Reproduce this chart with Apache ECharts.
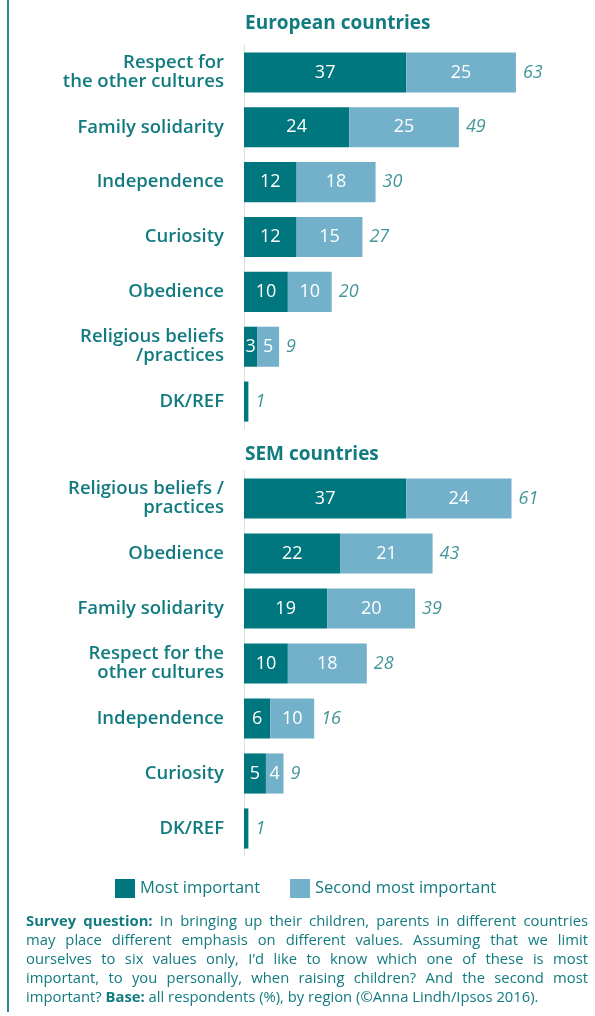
<!DOCTYPE html>
<html><head><meta charset="utf-8">
<script src="https://cdn.jsdelivr.net/npm/echarts@6/dist/echarts.min.js"></script>
<style>html,body{margin:0;padding:0;background:#fff}#c{width:595px;height:1016px}</style>
</head><body><div id="c"></div>
<script>
// ---- data ----
const euCategories = ['Respect for\nthe other cultures','Family solidarity','Independence','Curiosity','Obedience','Religious beliefs\n/practices','DK/REF'];
const euMost = [37,24,12,12,10,3,1];
const euSecond = [25,25,18,15,10,5,0];
const euTotal = [63,49,30,27,20,9,1];

const semCategories = ['Religious beliefs /\npractices','Obedience','Family solidarity','Respect for the\nother cultures','Independence','Curiosity','DK/REF'];
const semMost = [37,22,19,10,6,5,1];
const semSecond = [24,21,20,18,10,4,0];
const semTotal = [61,43,39,28,16,9,1];

const seriesNames = ['Most important','Second most important'];
const titles = ['European countries','SEM countries'];
const footLines = [
  [['Survey question:',true],['In bringing up their children, parents in different countries',false]],
  [['may place different emphasis on different values. Assuming that we limit',false]],
  [['ourselves to six values only, I\u2019d like to know which one of these is most',false]],
  [['important, to you personally, when raising children? And the second most',false]],
  [['important?',false],['Base:',true],['all respondents (%), by region (\u00A9Anna Lindh/Ipsos 2016).',false]]
];

// ---- style ----
const DARK = '#00767E', LIGHT = '#72B1C9', TEXT = '#127B80';
const FONT = '"Open Sans", sans-serif';

const chart = echarts.init(document.getElementById('c'));
const grids = [
  {left:244, right:44, top:45, height:384},
  {left:244, right:44, top:471, height:385}
];
const groups = [
  {cats:euCategories, most:euMost, second:euSecond, total:euTotal},
  {cats:semCategories, most:semMost, second:semSecond, total:semTotal}
];
const xAxis = [], yAxis = [], series = [];
groups.forEach((g,i)=>{
  xAxis.push({gridIndex:i, type:'value', min:0, max:70, show:false});
  yAxis.push({gridIndex:i, type:'category', inverse:true, data:g.cats,
    axisLine:{show:true, lineStyle:{color:'#dddddd', width:1}}, axisTick:{show:false},
    axisLabel:{color:TEXT, fontFamily:FONT, fontSize:18.5, fontWeight:600, lineHeight:19, margin:20, align:'right'}});
  const inLabel = {show:true, position:'inside', color:'#fff', fontFamily:FONT, fontSize:18, fontWeight:500,
    formatter:p=> p.value>=2 ? String(p.value) : ''};
  series.push({name:seriesNames[0], type:'bar', xAxisIndex:i, yAxisIndex:i, stack:'s'+i, data:g.most,
    itemStyle:{color:DARK}, barCategoryGap:'27%', label:inLabel});
  series.push({name:seriesNames[1], type:'bar', xAxisIndex:i, yAxisIndex:i, stack:'s'+i, data:g.second,
    itemStyle:{color:LIGHT}, barCategoryGap:'27%', label:inLabel});
  series.push({type:'scatter', xAxisIndex:i, yAxisIndex:i, symbolSize:0, silent:true,
    data:g.cats.map((c,k)=>[g.most[k]+g.second[k], k]),
    label:{show:true, position:'right', distance:7, color:TEXT, fontFamily:FONT, fontSize:18, fontStyle:'italic',
      formatter:p=>String(g.total[p.dataIndex])}});
});

// justified footnote
const cv = document.createElement('canvas').getContext('2d');
const FS = 14.8;
function w(t,b){cv.font=(b?'700 ':'400 ')+FS+'px "Open Sans"';return cv.measureText(t).width;}
const graphics = [
  {type:'rect', shape:{x:7,y:0,width:2,height:1012}, style:{fill:'#2A8A8E'}},
];
titles.forEach((t,i)=>graphics.push({type:'text', left:245, top:i?445:14,
  style:{text:t, fill:TEXT, font:'700 19px "Open Sans"'}}));
const X0=26, X1=588, Y0=914, LH=19;
footLines.forEach((segs,li)=>{
  const words=[];
  segs.forEach(([s,b])=>s.split(' ').forEach(wd=>words.push([wd,b])));
  const tot = words.reduce((a,[t,b])=>a+w(t,b),0);
  const last = li===footLines.length-1;
  const gap = last ? w(' ',false) : (X1-X0-tot)/(words.length-1);
  let x=X0;
  words.forEach(([t,b])=>{
    graphics.push({type:'text', x:x, y:Y0+li*LH, style:{text:t, fill:TEXT, font:(b?'700 ':'400 ')+FS+'px "Open Sans"', textVerticalAlign:'top'}});
    x += w(t,b)+gap;
  });
});

chart.setOption({
  animation:false,
  grid:grids,
  xAxis:xAxis, yAxis:yAxis, series:series,
  legend:{data:seriesNames, left:110, top:874, itemWidth:20, itemHeight:19, itemGap:30, icon:'rect',
    textStyle:{color:TEXT, fontFamily:FONT, fontSize:16.5, fontWeight:500}},
  graphic:graphics
});
</script></body></html>
